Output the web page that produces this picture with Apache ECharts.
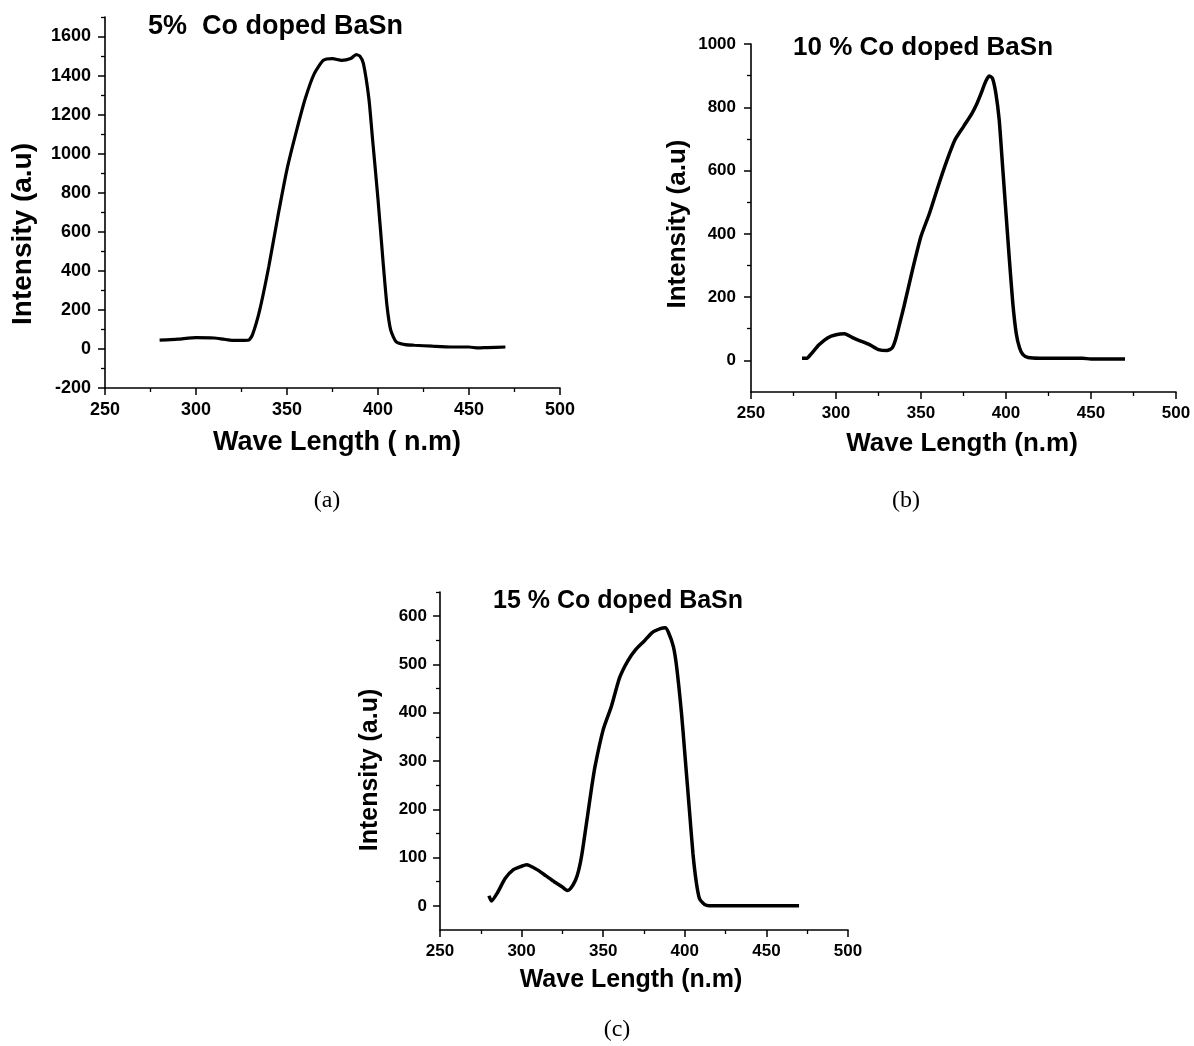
<!DOCTYPE html>
<html><head><meta charset="utf-8">
<script src="https://cdn.jsdelivr.net/npm/echarts@6/dist/echarts.min.js"></script>
<style>html,body{margin:0;padding:0;background:#fff}#c{width:1194px;height:1046px}</style>
</head><body><div id="c"></div>
<script>
// ---- Data ----
const wavelengthA = [280, 290, 300, 310, 315, 320, 325, 329, 331, 335, 340, 345, 350, 355, 360, 365, 370, 375, 380, 385, 388, 390, 392, 395, 397, 400, 403, 405, 407, 410, 415, 420, 430, 440, 450, 455, 460, 470];
const intensityA  = [45, 50, 58, 56, 50, 44, 44, 46, 72, 199, 422, 680, 920, 1109, 1281, 1410, 1478, 1487, 1478, 1487, 1507, 1500, 1461, 1281, 1075, 766, 422, 216, 96, 36, 22, 19, 14, 10, 10, 5, 7, 10];

const wavelengthB = [280, 283, 285, 290, 295, 300, 305, 310, 315, 320, 325, 330, 333, 335, 338, 340, 345, 350, 355, 360, 365, 370, 375, 380, 383, 385, 388, 390, 392, 394, 396, 398, 400, 402, 404, 406, 408, 410, 413, 420, 445, 450, 470];
const intensityB  = [7, 7, 18, 49, 71, 81, 84, 71, 60, 49, 34, 31, 39, 65, 128, 171, 286, 392, 465, 549, 628, 697, 739, 781, 813, 839, 881, 899, 892, 845, 760, 613, 465, 318, 181, 86, 39, 18, 9, 7, 7, 4, 4];

const wavelengthC = [280, 281.5, 285, 290, 295, 300, 303, 305, 310, 315, 320, 325, 328, 330, 333, 335, 337, 340, 343, 345, 350, 355, 360, 365, 370, 375, 380, 385, 388, 390, 393, 395, 398, 400, 403, 405, 407, 409, 412, 415, 470];
const intensityC  = [21, 10, 26, 57, 75, 82, 85, 83, 74, 62, 50, 39, 32, 36, 53, 74, 108, 177, 247, 289, 365, 413, 472, 507, 531, 548, 566, 574, 576, 566, 537, 495, 398, 316, 191, 108, 50, 15, 3, 0, 0];

// ---- Tick labels ----
const xTicks = [250, 300, 350, 400, 450, 500];
const yTicksA = [-200, 0, 200, 400, 600, 800, 1000, 1200, 1400, 1600];
const yMinorA = [-100, 100, 300, 500, 700, 900, 1100, 1300, 1500, 1700];
const yTicksB = [0, 200, 400, 600, 800, 1000];
const yMinorB = [100, 300, 500, 700, 900];
const yTicksC = [0, 100, 200, 300, 400, 500, 600];
const yMinorC = [50, 150, 250, 350, 450, 550, 650];

// ---- Texts ----
const titles = ['5%  Co doped BaSn', '10 % Co doped BaSn', '15 % Co doped BaSn'];
const yNames = ['Intensity (a.u)', 'Intensity (a.u)', 'Intensity (a.u)'];
const xNames = ['Wave Length ( n.m)', 'Wave Length (n.m)', 'Wave Length (n.m)'];
const captions = ['(a)', '(b)', '(c)'];

const FONT = '"Liberation Sans", Arial, sans-serif';
const toPairs = (xs, ys) => xs.map((x, i) => [x, ys[i]]);
const plain = v => String(v);

function xAxisCfg(gi, fs) {
  return {
    type: 'value', gridIndex: gi, min: 250, max: 500, interval: 50, position: 'bottom',
    axisLine: { show: true, onZero: false, lineStyle: { color: '#000', width: 1.6 } },
    axisTick: { show: true, inside: false, length: 7, lineStyle: { color: '#000', width: 1.5 } },
    minorTick: { show: true, splitNumber: 2, length: 4, lineStyle: { color: '#000', width: 1.3 } },
    splitLine: { show: false }, minorSplitLine: { show: false },
    axisLabel: { color: '#000', fontWeight: 'bold', fontSize: fs, fontFamily: FONT, margin: 13,
      formatter: plain, customValues: xTicks }
  };
}
function yAxisCfg(gi, min, max, ticks, fs, margin) {
  return {
    type: 'value', gridIndex: gi, min: min, max: max, position: 'left',
    axisLine: { show: true, onZero: false, lineStyle: { color: '#000', width: 1.6 } },
    axisTick: { show: true, inside: false, length: 7, lineStyle: { color: '#000', width: 1.5 }, customValues: ticks },
    splitLine: { show: false },
    axisLabel: { color: '#000', fontWeight: 'bold', fontSize: fs, fontFamily: FONT, margin: margin,
      formatter: plain, customValues: ticks }
  };
}
function yMinorCfg(gi, min, max, ticks) {
  return {
    type: 'value', gridIndex: gi, min: min, max: max, position: 'left', offset: 0,
    axisLine: { show: false, onZero: false },
    axisTick: { show: true, inside: false, length: 4, lineStyle: { color: '#000', width: 1.3 }, customValues: ticks },
    splitLine: { show: false },
    axisLabel: { show: false, customValues: ticks }
  };
}
function text(x, y, str, font, rot) {
  return { type: 'text', x: x, y: y, rotation: rot || 0, silent: true,
    style: { text: str, font: font, fill: '#000', align: 'center', verticalAlign: 'middle',
             textAlign: 'center', textVerticalAlign: 'middle' } };
}

const chart = echarts.init(document.getElementById('c'), null, { renderer: 'canvas' });
chart.setOption({
  backgroundColor: '#fff',
  animation: false,
  grid: [
    { left: 105, top: 17, width: 455, height: 371 },
    { left: 751, top: 44, width: 425, height: 348 },
    { left: 440, top: 592, width: 408, height: 338 }
  ],
  xAxis: [xAxisCfg(0, 18), xAxisCfg(1, 17), xAxisCfg(2, 17)],
  yAxis: [
    yAxisCfg(0, -200, 1700, yTicksA, 18, 14),
    yAxisCfg(1, -100, 1000, yTicksB, 17, 15),
    yAxisCfg(2, -50, 650, yTicksC, 17, 13),
    yMinorCfg(0, -200, 1700, yMinorA),
    yMinorCfg(1, -100, 1000, yMinorB),
    yMinorCfg(2, -50, 650, yMinorC)
  ],
  series: [
    { type: 'line', xAxisIndex: 0, yAxisIndex: 0, data: toPairs(wavelengthA, intensityA), showSymbol: false,
      smooth: 0.2, lineStyle: { color: '#000', width: 3.2 } },
    { type: 'line', xAxisIndex: 1, yAxisIndex: 1, data: toPairs(wavelengthB, intensityB), showSymbol: false,
      smooth: 0.2, lineStyle: { color: '#000', width: 3.5 } },
    { type: 'line', xAxisIndex: 2, yAxisIndex: 2, data: toPairs(wavelengthC, intensityC), showSymbol: false,
      smooth: 0.2, lineStyle: { color: '#000', width: 3.5 } }
  ],
  graphic: [
    { type: 'text', left: 148, top: 13, silent: true, style: { text: titles[0], font: 'bold 27px ' + FONT, fill: '#000' } },
    { type: 'text', left: 793, top: 35, silent: true, style: { text: titles[1], font: 'bold 26px ' + FONT, fill: '#000' } },
    { type: 'text', left: 493, top: 589, silent: true, style: { text: titles[2], font: 'bold 25px ' + FONT, fill: '#000' } },
    text(23, 234, yNames[0], 'bold 28px ' + FONT, Math.PI / 2),
    text(678, 224, yNames[1], 'bold 26px ' + FONT, Math.PI / 2),
    text(370, 770, yNames[2], 'bold 25px ' + FONT, Math.PI / 2),
    text(337, 443, xNames[0], 'bold 27px ' + FONT),
    text(962, 444, xNames[1], 'bold 26px ' + FONT),
    text(631, 980, xNames[2], 'bold 25px ' + FONT),
    text(327, 501, captions[0], '24px "Liberation Serif", "Times New Roman", serif'),
    text(906, 501, captions[1], '24px "Liberation Serif", "Times New Roman", serif'),
    text(617, 1030, captions[2], '24px "Liberation Serif", "Times New Roman", serif')
  ]
});
</script></body></html>
